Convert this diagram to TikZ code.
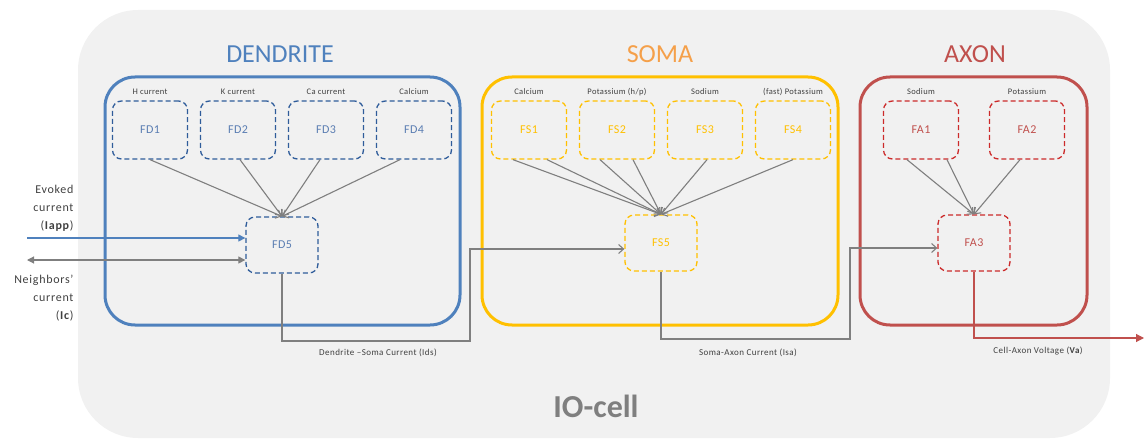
\documentclass[tikz,border=0pt]{standalone}
\usepackage{fontspec}
\setmainfont{Carlito}
\usetikzlibrary{arrows.meta}

\definecolor{cellbg}{HTML}{F1F1F1}
\definecolor{dblue}{HTML}{4F81BD}
\definecolor{dbluedash}{HTML}{2F5C9A}
\definecolor{dbluetxt}{HTML}{5A7DB2}
\definecolor{sgold}{HTML}{FFC000}
\definecolor{sorange}{HTML}{F5A04A}
\definecolor{ared}{HTML}{C0504D}
\definecolor{areddash}{HTML}{CC2A2A}
\definecolor{linkgray}{HTML}{7F7F7F}
\definecolor{smalltxt}{HTML}{404040}

\tikzset{
  title/.style={font=\fontsize{26}{28}\selectfont},
  frame/.style={line width=3pt, rounded corners=30pt},
  subbox/.style={draw, dash pattern=on 5pt off 3pt, line width=1.3pt,
    rounded corners=9pt, minimum width=75pt, minimum height=58pt,
    inner sep=0pt, font=\fontsize{12}{13}\selectfont\addfontfeature{LetterSpace=4}},
  joinbox/.style={subbox, minimum width=72pt, minimum height=56pt},
  chanlabel/.style={font=\fontsize{8.5}{9}\selectfont\addfontfeature{LetterSpace=4}, text=smalltxt},
  sidelabel/.style={font=\fontsize{12}{18}\selectfont\addfontfeature{LetterSpace=6}, text=smalltxt, align=right, anchor=east},
  buslabel/.style={font=\fontsize{9}{10}\selectfont\addfontfeature{LetterSpace=5}, text=smalltxt},
  feed/.style={draw=linkgray, line width=1.1pt, -{Straight Barb[length=5pt,width=9pt]}},
  link/.style={draw=linkgray, line width=1.1pt, -{Straight Barb[length=5pt,width=9pt]}},
}

\begin{document}
\begin{tikzpicture}[x=1pt, y=-1pt]
\useasboundingbox (0,0) rectangle (1146,441);

% the cell body
\fill[cellbg, rounded corners=60pt] (78,10) rectangle (1110,438);
\node[font=\bfseries\fontsize{32}{34}\selectfont, text=linkgray] (iocell) at (596,406) {IO-cell};

% compartment titles
\node[title, text=dblue] (tdend) at (280,54) {DENDRITE};
\node[title, text=sorange] (tsoma) at (660,54) {SOMA};
\node[title, text=ared] (taxon) at (975,54) {AXON};

% compartment frames
\draw[frame, draw=dblue] (105,77) rectangle (460,325);
\draw[frame, draw=sgold] (482,77) rectangle (838,325);
\draw[frame, draw=ared] (860,77) rectangle (1087,325);

% dendrite
\node[subbox, draw=dbluedash, text=dbluetxt] (FD1) at (150,130) {FD1};
\node[subbox, draw=dbluedash, text=dbluetxt] (FD2) at (238,130) {FD2};
\node[subbox, draw=dbluedash, text=dbluetxt] (FD3) at (326,130) {FD3};
\node[subbox, draw=dbluedash, text=dbluetxt] (FD4) at (414,130) {FD4};
\node[joinbox, draw=dbluedash, text=dbluetxt] (FD5) at (282,245) {FD5};
\node[chanlabel] (lFD1) at (150,92) {H current};
\node[chanlabel] (lFD2) at (238,92) {K current};
\node[chanlabel] (lFD3) at (326,92) {Ca current};
\node[chanlabel] (lFD4) at (414,92) {Calcium};

% soma
\node[subbox, draw=sgold, text=sgold] (FS1) at (529,130) {FS1};
\node[subbox, draw=sgold, text=sgold] (FS2) at (617,130) {FS2};
\node[subbox, draw=sgold, text=sgold] (FS3) at (705,130) {FS3};
\node[subbox, draw=sgold, text=sgold] (FS4) at (793,130) {FS4};
\node[joinbox, draw=sgold, text=sgold] (FS5) at (661,243) {FS5};
\node[chanlabel] (lFS1) at (529,92) {Calcium};
\node[chanlabel] (lFS2) at (617,92) {Potassium (h/p)};
\node[chanlabel] (lFS3) at (705,92) {Sodium};
\node[chanlabel] (lFS4) at (793,92) {(fast) Potassium};

% axon
\node[subbox, draw=areddash, text=ared] (FA1) at (921,130) {FA1};
\node[subbox, draw=areddash, text=ared] (FA2) at (1027,130) {FA2};
\node[joinbox, draw=areddash, text=ared] (FA3) at (974,243) {FA3};
\node[chanlabel] (lFA1) at (921,92) {Sodium};
\node[chanlabel] (lFA2) at (1027,92) {Potassium};

% channel outputs feeding each compartment
\draw[feed] (FD1.south) -- (FD5.north);
\draw[feed] ([xshift=2pt]FD2.south) -- (FD5.north);
\draw[feed] ([xshift=-6pt]FD3.south) -- (FD5.north);
\draw[feed] ([xshift=-14pt]FD4.south) -- (FD5.north);

\draw[feed] ([xshift=-16pt]FS1.south) -- (FS5.north);
\draw[feed] ([xshift=18pt]FS1.south) -- (FS5.north);
\draw[feed] ([xshift=-17pt]FS2.south) -- (FS5.north);
\draw[feed] ([xshift=16pt]FS2.south) -- (FS5.north);
\draw[feed] ([xshift=2pt]FS3.south) -- (FS5.north);
\draw[feed] (FS4.south) -- (FS5.north);

\draw[feed] ([xshift=-14pt]FA1.south) -- (FA3.north);
\draw[feed] ([xshift=26pt]FA1.south) -- (FA3.north);
\draw[feed] ([xshift=-7pt]FA2.south) -- (FA3.north);

% external inputs
\coordinate (iappin) at (27,238);
\coordinate (icin) at (27,260);
\draw[dblue, line width=1.1pt, -{Triangle[length=7pt,width=7pt]}] (iappin) -- (iappin -| FD5.west);
\draw[linkgray, line width=1.1pt, {Triangle[length=7pt,width=7pt]}-{Triangle[length=7pt,width=7pt]}] (icin) -- (icin -| FD5.west);
\node[sidelabel] (liapp) at (77,208) {Evoked\\current\\(\textbf{Iapp})};
\node[sidelabel] (lic) at (77,298) {Neighbors'\\current\\(\textbf{Ic})};

% dendrite -> soma
\coordinate (dsdown) at (470,341);
\coordinate (dsup) at (470,249);
\draw[link] (FD5.south) |- (dsdown) -- (dsup) -- (dsup -| FS5.west);
\node[buslabel] (lds) at (378,353) {Dendrite –Soma Current (Ids)};

% soma -> axon
\coordinate (sadown) at (850,339);
\coordinate (saup) at (850,248);
\draw[link] (FS5.south) |- (sadown) -- (saup) -- (saup -| FA3.west);
\node[buslabel] (lsa) at (748,353) {Soma-Axon Current (Isa)};

% axon output
\coordinate (vaout) at (1144,338);
\draw[ared, line width=1.1pt, -{Triangle[length=8pt,width=8pt]}] (FA3.south) |- (vaout);
\node[buslabel] (lva) at (1038,351) {Cell-Axon Voltage (\textbf{Va})};
\end{tikzpicture}
\end{document}
